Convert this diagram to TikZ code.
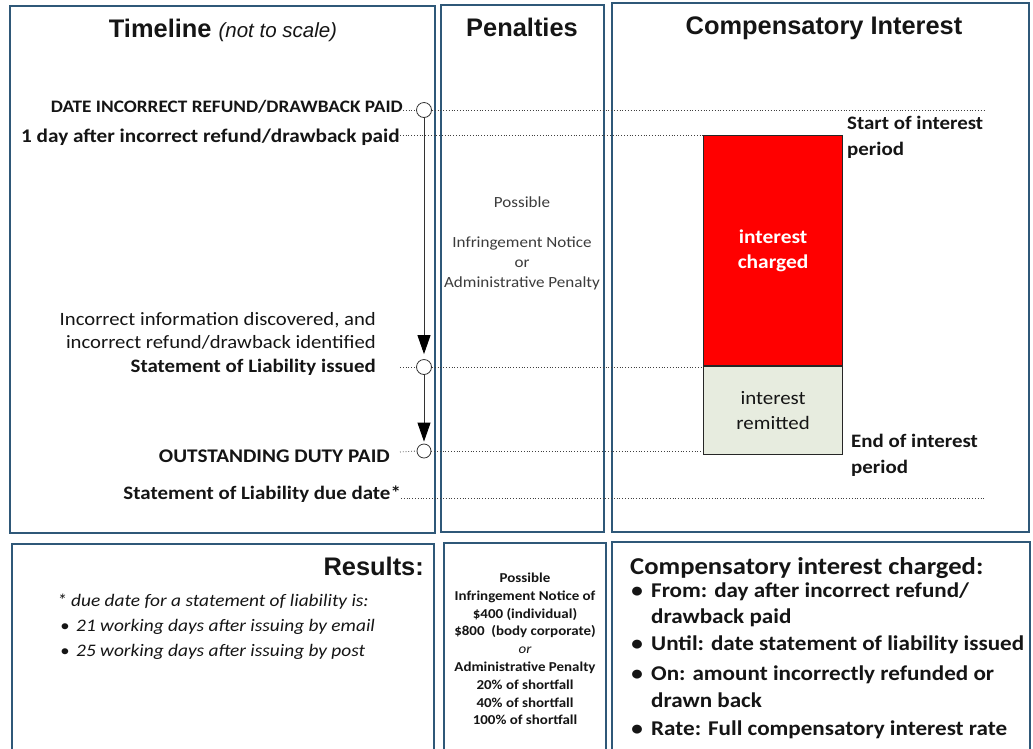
\documentclass[tikz,border=0pt]{standalone}
\usepackage{fontspec}
\setmainfont{Carlito}[FakeStretch=1.1]
\newfontfamily\arialf{Liberation Sans}
\usetikzlibrary{arrows.meta}
\definecolor{panelblue}{HTML}{2F5878}
\definecolor{txt}{HTML}{151515}
\definecolor{soft}{HTML}{3C3C3C}
\definecolor{remit}{HTML}{E7ECDF}
\definecolor{ired}{HTML}{FF0000}
\begin{document}
\begin{tikzpicture}[x=1pt,y=-1pt,
  panel/.style={draw=panelblue,line width=1.6pt},
  title/.style={anchor=base,inner sep=0pt,text=txt,font=\arialf\bfseries\fontsize{25.4}{29}\selectfont},
  lbl/.style={anchor=base east,inner sep=0pt,text=txt,font=\bfseries\fontsize{19.3}{23}\selectfont},
  dots/.style={dotted,line width=0.8pt,draw=black!75},
  evt/.style={circle,draw=black!80,line width=0.8pt,fill=white,minimum size=15pt,inner sep=0pt},
  flow/.style={draw=black!80,line width=0.9pt,-{Triangle[length=19pt,width=13pt,fill=black,color=black]}},
  bar/.style={draw=black!85,line width=1.2pt,minimum width=139pt,anchor=north west,inner sep=0pt,align=center},
  side/.style={anchor=north west,inner sep=0pt,align=left,text=txt,font=\bfseries\fontsize{19}{26}\selectfont},
  it/.style={anchor=base west,inner sep=0pt,text=txt,font=\itshape\fontsize{17.6}{20}\selectfont},
  cb/.style={anchor=base west,inner sep=0pt,text=txt,font=\bfseries\fontsize{21}{24}\selectfont},
]
\useasboundingbox (0,0) rectangle (1033,748);
\clip (0,0) rectangle (1033,748);
\fill[white] (0,0) rectangle (1033,748);
% panels
\draw[panel] (10,6) rectangle (435,533);
\draw[panel] (441,5) rectangle (604,532);
\draw[panel] (612,3) rectangle (1029,532);
\draw[panel] (12,544) rectangle (434,760);
\draw[panel] (444,543) rectangle (606,760);
\draw[panel] (612,542) rectangle (1030,760);
% titles
\node[title] (tTime) at (223,37) {Timeline {\mdseries\itshape\fontsize{20.5}{22}\selectfont (not to scale)}};
\node[title] (tPen) at (522,36) {Penalties};
\node[title] (tComp) at (824,34) {Compensatory Interest};
% timeline labels
\node[lbl,font=\bfseries\fontsize{17.5}{21}\selectfont] (l1) at (403,112) {DATE INCORRECT REFUND/DRAWBACK PAID};
\node[lbl] (l2) at (400,142) {1 day after incorrect refund/drawback paid};
\node[anchor=east,inner sep=0pt,align=right,text=txt,font=\fontsize{18.8}{23}\selectfont] (l3) at (376,331)
  {Incorrect information discovered, and\\incorrect refund/drawback identified};
\node[lbl,font=\bfseries\fontsize{19}{23}\selectfont] (l4) at (376,372) {Statement of Liability issued};
\node[lbl] (l5) at (390,462) {OUTSTANDING DUTY PAID};
\node[lbl,font=\bfseries\fontsize{19}{23}\selectfont] (l6) at (401,499) {Statement of Liability due date*};
% events
\node[evt] (c1) at (424,110) {};
\node[evt] (c2) at (424,367) {};
\node[evt,minimum size=14pt] (c3) at (424,451) {};
% interest bars
\node[bar,fill=ired,minimum height=230pt,text=white,font=\bfseries\fontsize{19.5}{25}\selectfont] (chg) at (703,135) {interest\\charged};
\node[bar,fill=remit,minimum height=88pt,text=txt,font=\fontsize{19}{25}\selectfont] (rem) at (chg.south west) {interest\\remitted};
\node[side] (st) at (847,116) {Start of interest\\period};
\node[side] (en) at (851,434) {End of interest\\period};
% guide lines
\coordinate (e1) at (985,110);
\coordinate (e6) at (985,498);
\coordinate (s2) at (400,367);
\coordinate (s3) at (400,452);
\draw[dots] (l1.east |- c1) -- (c1.west);
\draw[dots] (c1.east) -- (e1);
\draw[dots] (l2.east |- chg.north west) -- (chg.north west);
\draw[dots] (s2) -- (c2.west);
\draw[dots] (c2.east) -- (chg.west |- c2);
\draw[dots] (s3) -- (c3.west);
\draw[dots] (c3.east) -- (rem.west |- c3);
\draw[dots] (l6.east |- e6) -- (e6);
% flow arrows
\draw[flow] (c1.south) -- ([yshift=5pt]c2.north);
\draw[flow] (c2.south) -- ([yshift=2pt]c3.north);
% penalties text
\node[align=center,inner sep=0pt,text=soft,font=\fontsize{15.5}{20}\selectfont] (pen) at (522,243)
  {Possible\\[20pt]Infringement Notice\\or\\Administrative Penalty};
% results
\node[title,anchor=base east] (tRes) at (424,575) {Results:};
\node[it] (r0) at (57,606) {* due date for a statement of liability is:};
\node[it] (r1) at (76,631) {21 working days after issuing by email};
\node[it] (r2) at (76,656) {25 working days after issuing by post};
\node[anchor=base,inner sep=0pt,text=txt,font=\fontsize{17}{20}\selectfont] (rb1) at (65,631) {•};
\node[anchor=base,inner sep=0pt,text=txt,font=\fontsize{17}{20}\selectfont] (rb2) at (65,656) {•};
% bottom penalties
\node[align=center,inner sep=0pt,text=txt,font=\bfseries\fontsize{13.6}{17.8}\selectfont] (penb) at (525,649)
  {Possible\\Infringement Notice of\\\$400 (individual)\\\$800~~(body corporate)\\{\mdseries\itshape or}\\Administrative Penalty\\20\% of shortfall\\40\% of shortfall\\100\% of shortfall};
% compensatory interest charged
\node[cb,font=\bfseries\fontsize{24.2}{26}\selectfont] (ct) at (630,574) {Compensatory interest charged:};
\node[cb] (ci1) at (651,597) {From: day after incorrect refund/};
\node[cb] (ci1b) at (651,623) {drawback paid};
\node[cb] (ci2) at (651,650) {Until: date statement of liability issued};
\node[cb] (ci3) at (651,680) {On: amount incorrectly refunded or};
\node[cb] (ci3b) at (651,707) {drawn back};
\node[cb] (ci4) at (651,735) {Rate: Full compensatory interest rate};
\node[cb,anchor=base] (cbl1) at (637,597) {•};
\node[cb,anchor=base] (cbl2) at (637,650) {•};
\node[cb,anchor=base] (cbl3) at (637,680) {•};
\node[cb,anchor=base] (cbl4) at (637,735) {•};
\end{tikzpicture}
\end{document}
